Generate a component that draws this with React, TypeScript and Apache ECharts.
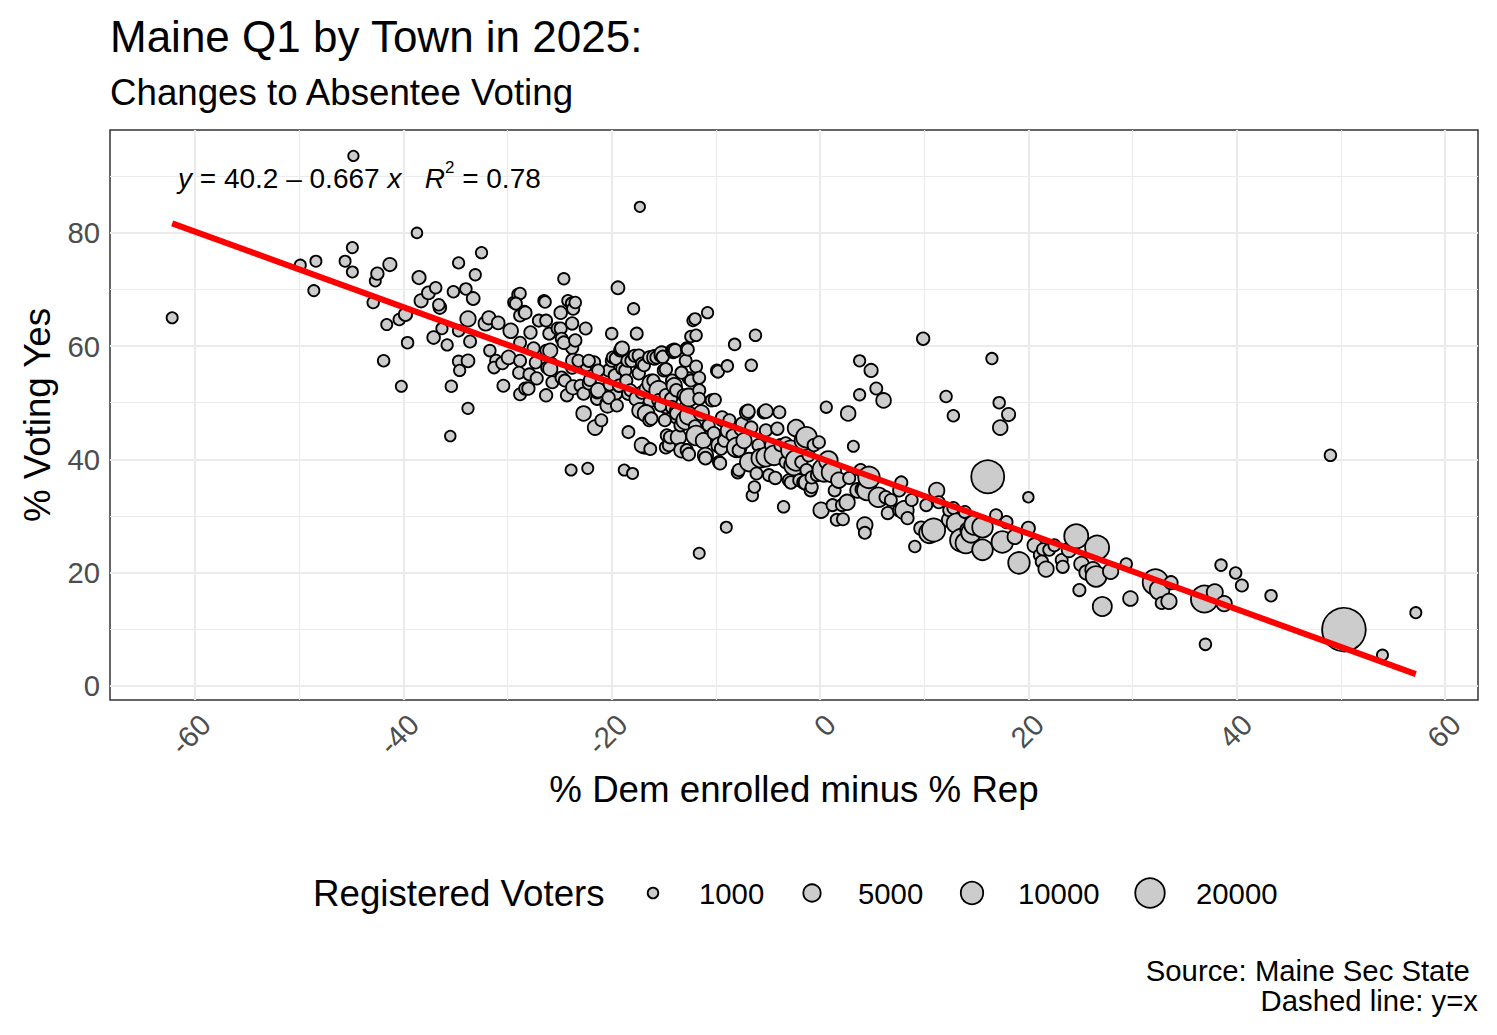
import React, { useEffect, useRef } from "react";
import * as echarts from "echarts";

// ---- Data ----
const pctDemMinusRep = [
  -23.8, -23.8, -22.4, -21.7, -20.3, -19.6, -22.0, -25.8, -18.1, -17.4,
  -16.2, -14.2, -12.6, -16.7, -14.8, -13.8, -12.9, -12.3, -16.7, -16.9,
  -16.2,
  -62.2, -49.9, -48.4, -48.6, -45.6, -44.9, -44.9, -44.8, -42.9, -42.7,
  -42.5, -41.3, -41.6, -41.9, -40.4, -39.8, -39.6, -40.2, -38.7, -38.5,
  -38.3, -37.6, -36.9, -36.5, -36.3, -37.1, -35.8, -36.6, -35.4, -35.5,
  -35.2, -34.7, -34.0, -33.3, -32.5, -33.1, -33.8, -34.7, -33.6, -34.7,
  -33.8, -34.6, -33.8, -32.1, -31.7, -31.1, -31.8, -30.9, -29.7, -31.3,
  -30.4, -30.5, -29.9, -29.4, -29.0, -28.8, -29.2, -28.8, -28.4, -28.3,
  -28.8, -28.8, -28.9, -28.8, -28.3, -28.0, -27.9, -27.8, -27.5, -27.3,
  -27.2, -27.0, -26.5, -26.4, -26.3, -26.3, -26.3, -26.2, -26.0, -25.9,
  -25.9, -25.7, -25.2, -24.9, -24.9, -24.8, -24.8, -24.6, -24.6, -24.5,
  -24.3, -24.2, -23.9, -23.8, -23.8, -23.7, -23.7, -23.7, -23.5, -23.5,
  -23.2, -23.0, -22.7, -22.7, -22.5, -22.3, -22.2, -22.2, -22.1, -21.6,
  -21.4, -21.4, -21.3, -21.3, -21.0, -20.5, -20.4, -20.3, -20.2, -20.0,
  -20.0, -19.9, -19.7, -19.6, -19.5, -19.4, -19.3, -19.2, -19.1, -19.0,
  -19.0, -18.8, -18.7, -18.6, -18.5, -18.4, -18.4, -18.2, -18.1, -18.0,
  -17.9, -17.8, -17.6, -17.6, -17.4, -17.4, -17.3, -17.3, -17.1, -17.1,
  -17.1, -16.9, -16.7, -16.6, -16.4, -16.4, -16.3, -16.2, -16.2, -16.0,
  -15.9, -15.7, -15.5, -15.5, -15.3, -15.3, -15.2, -15.1, -15.0, -14.9,
  -14.8, -14.8, -14.8, -14.7, -14.5, -14.4, -14.3, -14.2, -14.2, -14.1,
  -14.0, -14.0, -13.9, -13.8, -13.8, -13.8, -13.6, -13.4, -13.3, -13.3,
  -13.1, -12.9, -12.9, -12.8, -12.8, -12.7, -12.6, -12.6, -12.6, -12.4,
  -12.4, -12.2, -12.0, -12.0, -11.9, -11.9, -11.9, -11.6, -11.6, -11.6,
  -11.6, -11.4, -11.2, -11.0, -11.0, -10.8, -10.7, -10.4, -10.2, -10.1,
  -9.9, -9.8, -9.7, -9.7, -9.6, -9.5, -9.4, -9.4, -9.2, -9.0,
  -8.9, -8.8, -8.7, -8.4, -8.2, -8.0, -7.9, -7.8, -7.8, -7.6,
  -7.5, -7.3, -7.0, -6.9, -6.8, -6.6, -6.6, -6.5, -6.3, -6.2,
  -6.1, -5.9, -5.7, -5.4, -5.2, -5.2, -5.2, -4.9, -4.7, -4.4,
  -4.3, -4.1, -3.9, -3.8, -3.5, -3.3, -3.3, -3.0, -2.8, -2.8,
  -2.5, -2.3, -2.3, -2.0, -1.8, -1.6, -1.5, -1.3, -1.3, -1.3,
  -1.1, -0.9, -0.8, -0.8, -0.6, -0.3, -0.1, 0.1, 0.4, 0.6,
  0.8, 1.1, 1.2, 1.4, 1.6, 1.8, 2.1, 2.2, 2.6, 2.7,
  2.8, 3.2, 3.6, 3.8, 3.8, 3.9, 4.0, 4.3, 4.3, 4.5,
  4.7, 4.9, 5.4, 5.6, 6.1, 6.3, 6.5, 6.8, 7.6, 7.6,
  7.8, 8.1, 8.4, 8.8, 9.1, 9.7, 9.9, 10.2, 10.5, 10.9,
  11.2, 11.4, 12.1, 12.4, 12.4, 12.8, 12.8, 13.1, 13.6, 14.0,
  13.9, 14.2, 14.5, 14.8, 15.6, 15.6, 16.1, 16.5, 16.9, 17.2,
  17.3, 17.5, 17.9, 18.1, 18.7, 19.1, 20.0, 20.0, 20.6, 21.1,
  21.3, 21.4, 21.7, 22.0, 22.5, 23.2, 23.3, 23.9, 24.6, 24.9,
  25.1, 25.6, 26.2, 26.6, 26.5, 27.1, 27.9, 29.4, 29.8, 32.2,
  32.6, 32.8, 33.5, 33.7, 37.0, 36.9, 37.9, 38.5, 38.8, 39.9,
  40.5, 43.3, 49.0, 50.3, 54.0, 57.2,
];

const pctVotingYes = [
  59.7, 56.2, 56.6, 57.1, 55.7, 51.6, 53.0, 56.9, 58.0, 57.1,
  58.0, 53.9, 54.3, 51.6, 49.2, 47.4, 49.2, 46.3, 42.1, 42.1,
  50.9,
  65.0, 74.3, 75.0, 69.8, 75.0, 77.4, 73.1, 93.6, 67.7, 71.5,
  72.8, 74.4, 63.8, 57.4, 64.7, 65.6, 60.6, 52.9, 80.0, 72.1,
  68.0, 69.4, 70.3, 66.8, 63.1, 61.5, 60.2, 67.3, 52.9, 44.1,
  69.6, 74.7, 70.1, 68.4, 76.5, 72.6, 64.8, 62.7, 60.8, 57.3,
  57.4, 55.7, 49.0, 64.0, 59.2, 57.4, 65.0, 64.1, 62.7, 56.2,
  53.0, 57.0, 58.0, 67.7, 69.1, 69.3, 67.5, 65.4, 66.1, 65.9,
  60.6, 57.4, 55.3, 51.5, 52.5, 52.5, 55.0, 62.4, 59.6, 57.1,
  54.3, 64.5, 68.0, 67.8, 64.5, 59.2, 51.3, 56.2, 62.2, 59.2,
  56.0, 53.6, 63.1, 65.9, 63.1, 61.3, 54.4, 71.9, 60.6, 53.9,
  51.3, 68.0, 38.1, 67.5, 64.0, 66.6, 57.4, 52.7, 61.0, 67.7,
  57.4, 53.0, 51.6, 48.1, 63.1, 38.4, 57.4, 53.4, 54.0, 45.6,
  50.7, 51.8, 52.2, 55.7, 46.9, 49.9, 49.5, 50.9, 53.2, 62.2,
  57.4, 58.0, 54.8, 57.8, 49.5, 70.3, 53.0, 59.2, 59.4, 59.6,
  56.0, 38.1, 55.7, 53.9, 57.4, 44.8, 51.6, 52.2, 57.4, 37.5,
  66.6, 58.3, 62.2, 50.7, 58.3, 55.2, 84.6, 48.6, 56.9, 51.8,
  42.5, 56.6, 48.1, 52.3, 58.0, 46.9, 41.8, 53.4, 47.2, 53.9,
  58.0, 58.0, 52.2, 50.4, 58.3, 49.5, 58.7, 58.1, 55.7, 46.9,
  55.9, 51.3, 42.1, 44.2, 42.5, 43.9, 50.7, 59.2, 49.2, 58.9,
  59.2, 53.0, 59.2, 52.2, 48.6, 48.1, 43.9, 46.0, 55.3, 41.6,
  51.3, 57.4, 46.9, 59.6, 41.6, 59.4, 50.9, 47.7, 40.9, 61.7,
  53.9, 64.5, 64.8, 45.8, 56.4, 61.9, 44.2, 23.4, 54.4, 52.2,
  50.7, 48.2, 43.3, 40.7, 40.2, 65.9, 46.0, 50.4, 44.6, 50.5,
  55.7, 55.5, 42.5, 39.5, 39.3, 41.9, 46.9, 47.4, 43.3, 28.0,
  56.5, 45.1, 46.9, 44.2, 60.3, 42.1, 37.7, 38.1, 41.6, 45.3,
  46.3, 43.3, 48.3, 48.5, 39.5, 56.6, 45.6, 33.6, 35.1, 61.9,
  37.5, 42.5, 40.2, 48.3, 48.5, 45.1, 40.4, 37.2, 42.5, 40.7,
  36.7, 45.4, 48.3, 42.5, 31.6, 39.5, 42.8, 36.3, 41.6, 35.9,
  38.9, 45.5, 39.8, 36.3, 39.5, 35.9, 43.3, 43.9, 38.1, 35.9,
  40.7, 34.5, 35.1, 36.8, 42.5, 37.2, 43.0, 31.0, 38.1, 49.2,
  39.8, 37.7, 31.9, 34.5, 29.3, 36.3, 31.9, 29.4, 32.4, 48.1,
  36.7, 42.3, 34.5, 57.4, 51.4, 38.1, 34.7, 28.4, 27.0, 34.5,
  36.8, 55.7, 52.5, 33.3, 50.4, 33.3, 30.5, 32.8, 34.5, 31.0,
  35.9, 31.0, 29.6, 32.8, 24.6, 27.8, 61.3, 31.9, 27.0, 27.5,
  34.5, 32.4, 51.1, 29.3, 31.0, 47.7, 31.4, 28.7, 25.7, 25.2,
  30.7, 27.5, 27.0, 28.4, 28.0, 24.0, 36.9, 57.8, 30.1, 50.0,
  45.6, 25.4, 28.9, 47.9, 26.3, 21.7, 33.3, 27.8, 24.8, 23.1,
  21.9, 24.1, 20.6, 24.0, 24.8, 22.2, 21.0, 24.0, 26.4, 16.9,
  21.5, 20.0, 20.5, 24.4, 19.3, 14.0, 20.2, 21.5, 15.4, 18.3,
  16.9, 14.6, 14.9, 18.2, 7.3, 15.3, 16.5, 21.3, 14.5, 19.9,
  17.7, 15.9, 40.7, 9.9, 5.4, 12.9,
];

const registeredVoters = [
  1800, 1700, 1700, 1800, 1700, 1800, 1700, 1700, 1800, 1700,
  1800, 1800, 1700, 1900, 1800, 1800, 1800, 1800, 1700, 1800,
  5500,
  1200, 1200, 1200, 1200, 1200, 1200, 1200, 900, 1400, 1200,
  1800, 2200, 1200, 1400, 1400, 2200, 1400, 1200, 1000, 2200,
  2200, 2000, 1400, 1900, 1300, 1900, 1300, 1400, 1400, 1000,
  1400, 1300, 1400, 2000, 1300, 1300, 3500, 1400, 1600, 1400,
  2000, 1300, 1300, 2800, 1400, 1600, 2200, 2000, 3000, 1400,
  1600, 1800, 2500, 1400, 1400, 1400, 1600, 1600, 1400, 1900,
  1600, 1600, 1600, 1600, 1700, 1800, 1600, 1800, 1700, 1600,
  1700, 1600, 1400, 1400, 1600, 1400, 1800, 1600, 1600, 2800,
  2800, 1600, 1600, 1900, 1700, 1600, 1800, 1300, 1900, 1600,
  1700, 1400, 1200, 1900, 1800, 1700, 2800, 2800, 1800, 1400,
  1600, 1600, 1800, 3000, 1600, 1200, 1700, 1700, 1600, 3000,
  1800, 1600, 3000, 1600, 1600, 1700, 2800, 1800, 1600, 1400,
  1600, 1600, 1800, 1800, 1600, 2000, 1800, 1600, 1700, 2500,
  1600, 1200, 1700, 1700, 1600, 1600, 1900, 1600, 1800, 1200,
  1300, 1600, 1600, 3000, 1800, 1800, 900, 3500, 1600, 1900,
  3000, 1600, 4500, 3500, 1700, 1600, 1600, 5500, 1800, 1700,
  3000, 1800, 6000, 1900, 1700, 1600, 2800, 1800, 1700, 1600,
  1800, 1900, 1700, 1800, 1800, 1800, 1700, 1800, 1800, 1600,
  2800, 3500, 2000, 1800, 1900, 1800, 3500, 1700, 1700, 3000,
  1700, 1600, 6000, 1600, 1700, 1700, 5500, 5500, 1900, 1400,
  1600, 1300, 1400, 1800, 1600, 1400, 7000, 1200, 1600, 1700,
  1600, 3500, 3500, 3500, 1900, 1300, 1700, 1700, 1800, 1700,
  1600, 1700, 3500, 1700, 1800, 1800, 1700, 1800, 1800, 1200,
  1400, 3500, 1600, 1700, 1400, 7000, 1700, 1600, 1800, 1800,
  1700, 3500, 3000, 2200, 6000, 1400, 1800, 1400, 1400, 1400,
  1600, 1800, 6000, 1800, 2500, 1700, 6500, 1600, 1800, 7000,
  1800, 1800, 1600, 1700, 1400, 1700, 1800, 1600, 7000, 1800,
  7000, 4500, 8000, 1600, 1700, 1800, 7000, 8000, 1700, 3500,
  1800, 1600, 1700, 1800, 1800, 1600, 1600, 3500, 11000, 1300,
  6000, 7000, 1600, 1600, 1600, 3500, 1600, 1600, 3500, 3000,
  1700, 1200, 3000, 1300, 1300, 1700, 1800, 3500, 1600, 7000,
  9000, 2200, 1600, 7000, 3000, 1800, 1700, 1600, 1700, 1800,
  1700, 6000, 1700, 1600, 1400, 2500, 1800, 1600, 8000, 11000,
  3500, 1600, 1400, 3000, 1600, 1400, 1600, 7000, 11000, 8000,
  1600, 3500, 7000, 7000, 8000, 8000, 26000, 1300, 1600, 1400,
  3000, 9000, 1700, 2200, 3000, 9000, 1000, 2200, 2800, 1600,
  1800, 1600, 3500, 1600, 1600, 1600, 1700, 3000, 12000, 1700,
  3000, 3000, 3500, 12000, 8000, 6500, 3500, 1400, 3000, 14000,
  7000, 1600, 3500, 2200, 1400, 16000, 4000, 1400, 3500, 1400,
  1700, 1400, 1400, 50000, 1200, 1200,
];

// Regression line shown in the chart
const intercept = 40.2;
const slope = -0.667;
const rSquared = 0.78;

// Axis breaks
const xMajor = [-60, -40, -20, 0, 20, 40, 60];
const xMinor = [-50, -30, -10, 10, 30, 50];
const yMajor = [0, 20, 40, 60, 80];
const yMinor = [10, 30, 50, 70, 90];

// Size legend breaks
const legendBreaks = [1000, 5000, 10000, 20000];

const FONT = '"Liberation Sans", Arial, Helvetica, sans-serif';
const BORDER_W = 1.8;
const BASE = 36.7;
const SMALL = 29.3;
const sizeFn = (v: number) => 0.172 * Math.sqrt(v) + 7.0 - BORDER_W;

export default function App() {
  const ref = useRef<HTMLDivElement>(null);

  useEffect(() => {
    document.body.style.margin = "0";
    const chart = echarts.init(ref.current!, null, { renderer: "svg" });

    const x0 = Math.min(...pctDemMinusRep);
    const x1 = Math.max(...pctDemMinusRep);
    const lineY = (x: number) => intercept + slope * x;
    const allY = [...pctVotingYes, lineY(x0), lineY(x1)];
    const y0 = Math.min(...allY);
    const y1 = Math.max(...allY);
    const xMin = x0 - 0.05 * (x1 - x0);
    const xMax = x1 + 0.05 * (x1 - x0);
    const yMin = y0 - 0.05 * (y1 - y0);
    const yMax = y1 + 0.05 * (y1 - y0);

    const vLine = (v: number, major: boolean) => ({
      coords: [
        [v, yMin],
        [v, yMax],
      ],
      lineStyle: { width: major ? 2.2 : 1.1 },
    });
    const hLine = (v: number, major: boolean) => ({
      coords: [
        [xMin, v],
        [xMax, v],
      ],
      lineStyle: { width: major ? 2.2 : 1.1 },
    });
    const gridLines = [
      ...xMinor.map((v) => vLine(v, false)),
      ...yMinor.map((v) => hLine(v, false)),
      ...xMajor.map((v) => vLine(v, true)),
      ...yMajor.map((v) => hLine(v, true)),
    ];

    const points = pctDemMinusRep.map((x, i) => [x, pctVotingYes[i], registeredVoters[i]]);

    // legend layout
    const legendY = 893;
    const keyX = [653, 812, 972, 1150];
    const legendGraphics: any[] = [
      {
        type: "text",
        x: 313,
        y: legendY,
        style: { text: "Registered Voters", fontSize: BASE, fontFamily: FONT, fill: "#000", align: "left", verticalAlign: "middle" },
      },
    ];
    legendBreaks.forEach((b, i) => {
      const d = sizeFn(b);
      legendGraphics.push({
        type: "circle",
        shape: { cx: keyX[i], cy: legendY, r: d / 2 },
        style: { fill: "#CCCCCC", stroke: "#000", lineWidth: BORDER_W },
      });
      legendGraphics.push({
        type: "text",
        x: keyX[i] + 46,
        y: legendY,
        style: { text: String(b), fontSize: SMALL, fontFamily: FONT, fill: "#000", align: "left", verticalAlign: "middle" },
      });
    });

    const eqText = `{i|y} = ${intercept.toFixed(1)} – ${Math.abs(slope).toFixed(3)} {i|x}   {i|R}{s|2} = ${rSquared.toFixed(2)}`;

    const option: any = {
      animation: false,
      backgroundColor: "#FFFFFF",
      textStyle: { fontFamily: FONT },
      grid: {
        left: 110,
        right: 19,
        top: 130,
        bottom: 335,
        show: true,
        borderColor: "#333333",
        borderWidth: 1.5,
        backgroundColor: "#FFFFFF",
      },
      xAxis: {
        type: "value",
        min: xMin,
        max: xMax,
        axisLine: { show: false },
        splitLine: { show: false },
        axisTick: { show: true, customValues: xMajor, length: 6, lineStyle: { color: "#333333", width: 1.5 } },
        axisLabel: {
          customValues: xMajor,
          rotate: 45,
          margin: 9,
          align: "right",
          verticalAlign: "top",
          color: "#4D4D4D",
          fontSize: SMALL,
          fontFamily: FONT,
        },
      },
      yAxis: {
        type: "value",
        min: yMin,
        max: yMax,
        axisLine: { show: false },
        splitLine: { show: false },
        axisTick: { show: true, customValues: yMajor, length: 6, lineStyle: { color: "#333333", width: 1.5 } },
        axisLabel: { customValues: yMajor, margin: 10, color: "#4D4D4D", fontSize: SMALL, fontFamily: FONT },
      },
      series: [
        {
          type: "lines",
          name: "grid",
          coordinateSystem: "cartesian2d",
          silent: true,
          z: 1,
          symbol: ["none", "none"],
          lineStyle: { color: "#EBEBEB", opacity: 1, curveness: 0 },
          data: gridLines,
        },
        {
          type: "scatter",
          name: "towns",
          z: 3,
          data: points,
          symbol: "circle",
          symbolSize: (val: number[]) => sizeFn(val[2]),
          itemStyle: { color: "#CCCCCC", borderColor: "#000000", borderWidth: BORDER_W, opacity: 1 },
        },
        {
          type: "line",
          name: "fit",
          z: 5,
          showSymbol: false,
          symbol: "none",
          data: [
            [x0, lineY(x0)],
            [x1, lineY(x1)],
          ],
          lineStyle: { color: "#FF0000", width: 6 },
        },
      ],
      graphic: [
        {
          type: "text",
          x: 110,
          y: 36,
          style: { text: "Maine Q1 by Town in 2025:", fontSize: 44, fontFamily: FONT, fill: "#000", align: "left", verticalAlign: "middle" },
        },
        {
          type: "text",
          x: 110,
          y: 92,
          style: { text: "Changes to Absentee Voting", fontSize: BASE, fontFamily: FONT, fill: "#000", align: "left", verticalAlign: "middle" },
        },
        {
          type: "text",
          x: 178,
          y: 178,
          z: 10,
          style: {
            text: eqText,
            fontSize: 28,
            lineHeight: 38,
            fontFamily: FONT,
            fill: "#000",
            align: "left",
            verticalAlign: "middle",
            rich: {
              i: { fontStyle: "italic", fontSize: 28, lineHeight: 38, fontFamily: FONT },
              s: { fontSize: 17, lineHeight: 17, verticalAlign: "top", fontFamily: FONT },
            },
          },
        },
        {
          type: "text",
          x: 37,
          y: 415,
          rotation: Math.PI / 2,
          style: { text: "% Voting Yes", fontSize: BASE, fontFamily: FONT, fill: "#000", align: "center", verticalAlign: "middle" },
        },
        {
          type: "text",
          x: 794,
          y: 789,
          style: { text: "% Dem enrolled minus % Rep", fontSize: BASE, fontFamily: FONT, fill: "#000", align: "center", verticalAlign: "middle" },
        },
        ...legendGraphics,
        {
          type: "text",
          x: 1478,
          y: 970,
          style: { text: "Source: Maine Sec State ", fontSize: SMALL, fontFamily: FONT, fill: "#000", align: "right", verticalAlign: "middle" },
        },
        {
          type: "text",
          x: 1478,
          y: 1000,
          style: { text: "Dashed line: y=x", fontSize: SMALL, fontFamily: FONT, fill: "#000", align: "right", verticalAlign: "middle" },
        },
      ],
    };

    chart.setOption(option);
    return () => chart.dispose();
  }, []);

  return <div ref={ref} style={{ width: 1497, height: 1035 }} />;
}
